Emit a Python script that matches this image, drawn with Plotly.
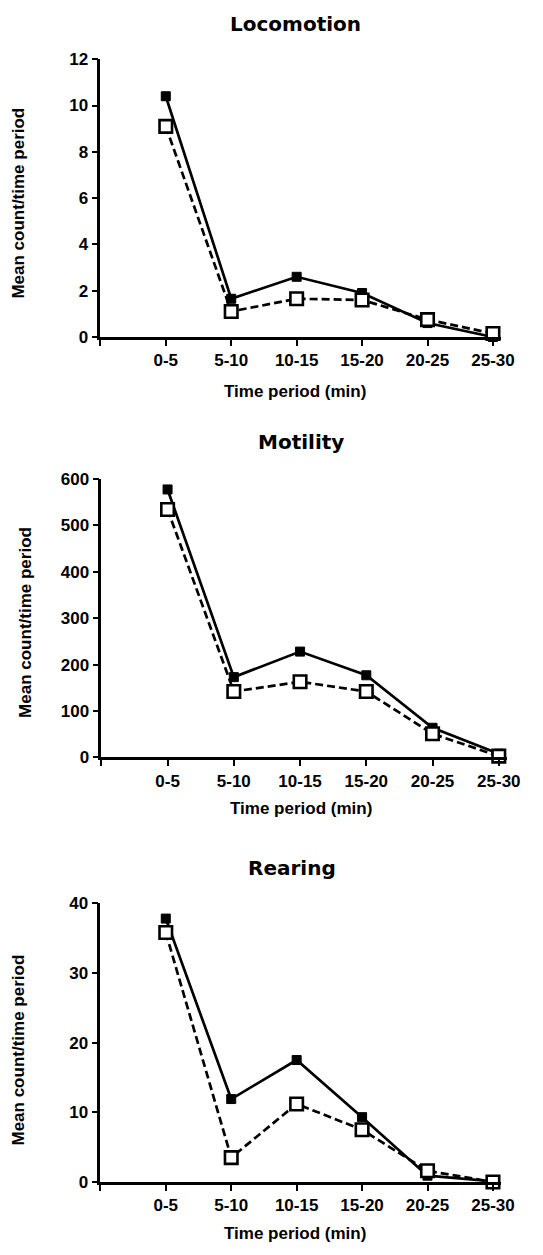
import plotly.graph_objects as go

W, H = 543, 1255

categories = ["0-5", "5-10", "10-15", "15-20", "20-25", "25-30"]

panel_titles = ["Locomotion", "Motility", "Rearing"]

loco_filled = [10.4, 1.65, 2.6, 1.9, 0.6, 0.0]
loco_open = [9.1, 1.1, 1.65, 1.6, 0.75, 0.15]

motil_filled = [577, 173, 228, 177, 64, 8]
motil_open = [534, 142, 163, 142, 51, 3]

rear_filled = [37.8, 11.9, 17.5, 9.3, 0.9, 0.1]
rear_open = [35.8, 3.5, 11.2, 7.5, 1.6, 0.0]

y_ticks = [[0, 2, 4, 6, 8, 10, 12],
           [0, 100, 200, 300, 400, 500, 600],
           [0, 10, 20, 30, 40]]
y_max = [12, 600, 40]

filled_series = [loco_filled, motil_filled, rear_filled]
open_series = [loco_open, motil_open, rear_open]

# layout geometry in pixels: (axis x px, last category x px, y0 px, ytop px)
geom = [(103, 506, 333, 51), (104, 512, 760, 477), (103, 506, 1191, 908)]
title_pos = [(303, 15), (309, 440), (300, 872)]
xtitle_pos = [(303, 388), (309, 812), (303, 1243)]
ytitle_pos = [(18, 197), (26, 623), (19, 1057)]

XMAX = 6.12


def px(x):
    return x / W


def py(y):
    return 1 - y / H


TICK_FONT = dict(family="Liberation Sans, Arial, sans-serif", size=17, color="black", weight="bold")
AX_FONT = dict(family="Liberation Sans, Arial, sans-serif", size=17, color="black", weight="bold")
TITLE_FONT = dict(family="DejaVu Sans, sans-serif", size=20, color="black", weight="bold")

fig = go.Figure()
annotations = []
xpos = list(range(1, len(categories) + 1))

for i in range(3):
    ax0, axlast, y0, ytop = geom[i]
    unit = (axlast - ax0) / 6.0
    xr = ax0 + XMAX * unit
    sfx = "" if i == 0 else str(i + 1)
    xa = "x" + sfx
    ya = "y" + sfx

    fig.add_trace(go.Scatter(
        x=xpos, y=filled_series[i], xaxis=xa, yaxis=ya, mode="lines+markers",
        line=dict(color="black", width=2.7),
        marker=dict(symbol="square", size=9, color="black", line=dict(color="black", width=1)),
        cliponaxis=False, showlegend=False))
    fig.add_trace(go.Scatter(
        x=xpos, y=open_series[i], xaxis=xa, yaxis=ya, mode="lines+markers",
        line=dict(color="black", width=2.7, dash="8px,4px"),
        marker=dict(symbol="square", size=12.5, color="white", line=dict(color="black", width=2.6)),
        cliponaxis=False, showlegend=False))

    fig.layout["xaxis" + sfx] = dict(
        domain=[px(ax0), px(xr)], anchor=ya, range=[0, XMAX],
        tickmode="array", tickvals=[0] + xpos, ticktext=[""] + categories,
        ticks="outside", ticklen=6, tickwidth=2, tickcolor="black",
        showline=True, linecolor="black", linewidth=2.5,
        showgrid=False, zeroline=False, tickfont=TICK_FONT, fixedrange=True)
    fig.layout["yaxis" + sfx] = dict(
        domain=[py(y0), py(ytop)], anchor=xa, range=[0, y_max[i]],
        tickmode="array", tickvals=y_ticks[i],
        ticks="outside", ticklen=6, tickwidth=2, tickcolor="black",
        showline=True, linecolor="black", linewidth=2.5,
        showgrid=False, zeroline=False, tickfont=TICK_FONT, fixedrange=True)

    tx, ty = title_pos[i]
    annotations.append(dict(text=panel_titles[i], x=px(tx), y=py(ty), xref="paper", yref="paper",
                            xanchor="center", yanchor="middle", showarrow=False, font=TITLE_FONT))
    tx, ty = xtitle_pos[i]
    annotations.append(dict(text="Time period (min)", x=px(tx), y=py(ty), xref="paper", yref="paper",
                            xanchor="center", yanchor="middle", showarrow=False, font=AX_FONT))
    tx, ty = ytitle_pos[i]
    annotations.append(dict(text="Mean count/time period", x=px(tx), y=py(ty), xref="paper", yref="paper",
                            xanchor="center", yanchor="middle", showarrow=False, textangle=-90,
                            font=AX_FONT))

fig.update_layout(
    width=W, height=H, margin=dict(l=0, r=0, t=0, b=0),
    paper_bgcolor="white", plot_bgcolor="white",
    annotations=annotations, showlegend=False)

fig.write_html("out.html", config={"displayModeBar": False})
